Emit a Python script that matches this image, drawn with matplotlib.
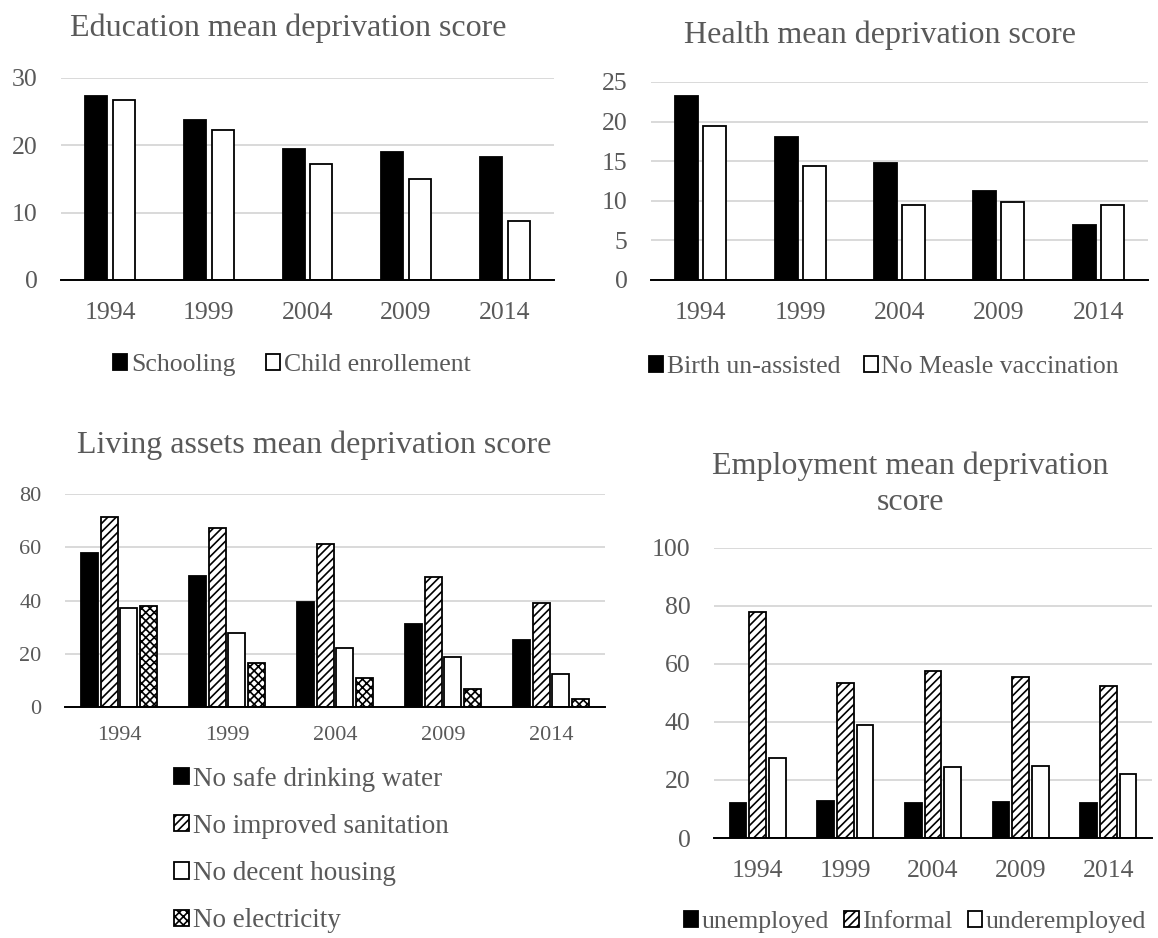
import matplotlib
matplotlib.use("Agg")
import matplotlib.pyplot as plt
import numpy as np

years = ["1994", "1999", "2004", "2009", "2014"]

# education
schooling = [27.4, 23.8, 19.5, 19.0, 18.2]
child_enrollement = [26.8, 22.3, 17.3, 15.0, 8.7]

# health
birth_unassisted = [23.2, 18.0, 14.8, 11.3, 7.0]
no_measle = [19.45, 14.4, 9.45, 9.87, 9.45]

# living assets
no_water = [57.7, 49.2, 39.5, 31.2, 25.2]
no_sanitation = [71.5, 67.1, 61.2, 48.7, 39.1]
no_housing = [37.1, 27.7, 22.2, 18.6, 12.5]
no_electricity = [38.0, 16.6, 11.0, 6.6, 3.1]

# employment
unemployed = [12.1, 12.7, 11.9, 12.5, 12.1]
informal = [77.9, 53.5, 57.5, 55.5, 52.5]
underemployed = [27.7, 38.8, 24.6, 24.8, 21.9]

W, H = 1158, 938
GREY = "#595959"
SERIF = "Liberation Serif"

plt.rcParams["font.family"] = SERIF
plt.rcParams["hatch.linewidth"] = 1.2

fig = plt.figure(figsize=(W / 100, H / 100), dpi=100)


def px_axes(left, right, top, bottom):
    return fig.add_axes([left / W, 1 - bottom / H, (right - left) / W, (bottom - top) / H])


def style(ax, ymax, step, tick_size, ypad, xpad):
    ax.set_xlim(-0.5, len(years) - 0.5)
    ax.set_ylim(0, ymax)
    ax.set_yticks(np.arange(0, ymax + 0.1, step))
    ax.set_xticks(range(len(years)))
    ax.set_xticklabels(years)
    for s in ["top", "right", "left"]:
        ax.spines[s].set_visible(False)
    ax.spines["bottom"].set_color("black")
    ax.spines["bottom"].set_linewidth(1.4)
    ax.spines["bottom"].set_zorder(5)
    ax.grid(axis="y", color="#d9d9d9", linewidth=1.4)
    ax.set_axisbelow(True)
    ax.tick_params(axis="both", length=0, labelcolor=GREY, labelsize=tick_size)
    ax.tick_params(axis="y", pad=ypad)
    ax.tick_params(axis="x", pad=xpad)


def bars(ax, series, width, step, styles):
    x = np.arange(len(years))
    n = len(series)
    handles = []
    for i, (vals, (fc, hatch)) in enumerate(zip(series, styles)):
        off = (i - (n - 1) / 2) * step
        b = ax.bar(x + off, vals, width, facecolor=fc, edgecolor="black",
                   linewidth=1.3, hatch=hatch, zorder=3)
        handles.append(b)
    return handles


SOLID = ("black", None)
EMPTY = ("white", None)
DIAG = ("white", "////")
CHECK = ("white", "xxxx")


def title(x, y, txt):
    fig.text(x / W, 1 - y / H, txt, ha="center", va="center", fontsize=23,
             color=GREY, linespacing=1.3)


def legend(handles, labels, x, y, ncol, size, colsp, loc="center", lsp=0.5):
    fig.legend(handles, labels, loc=loc, bbox_to_anchor=(x / W, 1 - y / H), ncol=ncol,
               frameon=False, fontsize=size, labelcolor=GREY, handlelength=0.55,
               handleheight=0.55, handletextpad=0.15, columnspacing=colsp,
               borderpad=0, borderaxespad=0, labelspacing=lsp)


# Education
ax1 = px_axes(61, 554, 78, 280)
style(ax1, 30, 10, 18.5, 17, 16)
h = bars(ax1, [schooling, child_enrollement], 0.223, 0.283, [SOLID, EMPTY])
title(288, 28, "Education mean deprivation score")
legend(h, ["Schooling", "Child enrollement"], 292, 365, 2, 18.5, 1.2)

# Health
ax2 = px_axes(651, 1148, 82, 280)
style(ax2, 25, 5, 18.5, 17, 16)
h = bars(ax2, [birth_unassisted, no_measle], 0.23, 0.282, [SOLID, EMPTY])
title(880, 35, "Health mean deprivation score")
legend(h, ["Birth un-assisted", "No Measle vaccination"], 884, 367, 2, 18.5, 0.9)

# Living assets
ax3 = px_axes(65, 605, 494, 707)
style(ax3, 80, 20, 16, 17, 14)
h = bars(ax3, [no_water, no_sanitation, no_housing, no_electricity], 0.155, 0.182,
         [SOLID, DIAG, EMPTY, CHECK])
title(314, 445, "Living assets mean deprivation score")
legend(h, ["No safe drinking water", "No improved sanitation", "No decent housing",
           "No electricity"], 174, 850, 1, 19.5, 1.0, loc="center left", lsp=0.82)

# Employment
ax4 = px_axes(714, 1152, 548, 838)
style(ax4, 100, 20, 18.5, 17, 16)
h = bars(ax4, [unemployed, informal, underemployed], 0.19, 0.225, [SOLID, DIAG, EMPTY])
title(910, 484, "Employment mean deprivation\nscore")
legend(h, ["unemployed", "Informal", "underemployed"], 915, 922, 3, 18.5, 0.6)

fig.savefig("out.png", dpi=100)
